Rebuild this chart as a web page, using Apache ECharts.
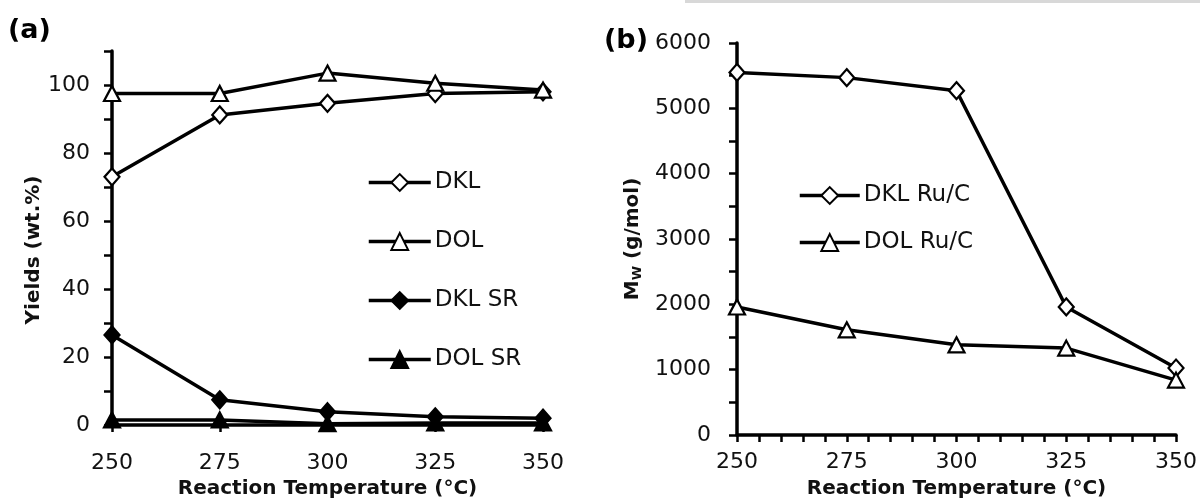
<!DOCTYPE html>
<html>
<head>
<meta charset="utf-8">
<script src="https://cdn.jsdelivr.net/npm/echarts@6/dist/echarts.min.js"></script>
<style>
html,body{margin:0;padding:0;background:#fff;}
#c{width:1200px;height:504px;}
</style>
</head>
<body>
<div id="c"></div>
<script>
const temps = [250, 275, 300, 325, 350];
const dklYield = [73, 91.2, 94.6, 97.5, 98];
const dolYield = [97.5, 97.5, 103.5, 100.5, 98.5];
const dklSR = [26.5, 7.4, 3.9, 2.4, 2];
const dolSR = [1.5, 1.5, 0.4, 0.6, 0.6];
const dklMw = [5550, 5470, 5270, 1960, 1025];
const dolMw = [1960, 1610, 1380, 1330, 840];
const yLabelsA = [0, 20, 40, 60, 80, 100];
const legendA = ['DKL', 'DOL', 'DKL SR', 'DOL SR'];
const legendB = ['DKL Ru/C', 'DOL Ru/C'];

const FONT = 'DejaVu Sans';
const pairs = (ys) => temps.map((t, i) => [t, ys[i]]);

function lineSeries(name, data, symbol, filled, xi, yi) {
  return {
    name: name, type: 'line', data: pairs(data), xAxisIndex: xi, yAxisIndex: yi,
    symbol: symbol, symbolSize: symbol === 'diamond' ? [15, 17] : [16, 15],
    showAllSymbol: true, clip: false,
    lineStyle: { color: '#000', width: 3.5 },
    itemStyle: { color: filled ? '#000' : '#fff', borderColor: '#000', borderWidth: 2.2 },
    emphasis: { disabled: true }
  };
}

const axisLineStyle = { show: true, onZero: false, lineStyle: { color: '#000', width: 3.5 } };
const labelStyle = { color: '#111', fontFamily: FONT, fontSize: 22 };
const legendText = { fontFamily: FONT, fontSize: 23, color: '#111', padding: [0, 0, 0, -1] };

const option = {
  animation: false,
  backgroundColor: '#fff',
  graphic: [
    { type: 'text', left: 8, top: 17, style: { text: '(a)', font: 'bold 27px "DejaVu Sans"', fill: '#000' } },
    { type: 'text', left: 604, top: 27, style: { text: '(b)', font: 'bold 27px "DejaVu Sans"', fill: '#000' } },
    { type: 'rect', shape: { x: 685, y: 0, width: 515, height: 3 }, style: { fill: '#d8d8d8' } }
  ],
  grid: [
    { left: 112, right: 657, top: 51, bottom: 79 },
    { left: 737, right: 23, top: 43, bottom: 69 }
  ],
  legend: [
    {
      data: legendA, orient: 'vertical', left: 367, top: 171, padding: 0,
      itemWidth: 62, itemHeight: 21, itemGap: 36,
      lineStyle: { color: '#000', width: 3.5 },
      textStyle: legendText,
      selectedMode: false
    },
    {
      data: legendB, orient: 'vertical', left: 798, top: 184, padding: 0,
      itemWidth: 60, itemHeight: 21, itemGap: 24,
      lineStyle: { color: '#000', width: 3.5 },
      textStyle: legendText,
      selectedMode: false
    }
  ],
  xAxis: [
    {
      type: 'value', gridIndex: 0, min: 250, max: 350, interval: 25,
      axisLine: axisLineStyle,
      axisTick: { show: true, length: 7, lineStyle: { color: '#000', width: 2.5 } },
      axisLabel: Object.assign({ margin: 27 }, labelStyle),
      splitLine: { show: false },
      name: 'Reaction Temperature (°C)', nameLocation: 'middle', nameGap: 54,
      nameTextStyle: { fontFamily: FONT, fontWeight: 'bold', fontSize: 20, color: '#111' }
    },
    {
      type: 'value', gridIndex: 1, min: 250, max: 350, interval: 25,
      axisLine: axisLineStyle,
      axisTick: { show: true, length: 7, lineStyle: { color: '#000', width: 2.5 } },
      minorTick: { show: true, splitNumber: 5, length: 7, lineStyle: { color: '#000', width: 2.5 } },
      axisLabel: Object.assign({ margin: 16 }, labelStyle),
      splitLine: { show: false },
      name: 'Reaction Temperature (°C)', nameLocation: 'middle', nameGap: 44,
      nameTextStyle: { fontFamily: FONT, fontWeight: 'bold', fontSize: 20, color: '#111' }
    }
  ],
  yAxis: [
    {
      type: 'value', gridIndex: 0, min: 0, max: 110, interval: 10,
      axisLine: axisLineStyle,
      axisTick: { show: true, length: 8, lineStyle: { color: '#000', width: 2.5 } },
      axisLabel: Object.assign({
        margin: 22,
        formatter: (v) => (yLabelsA.indexOf(v) >= 0 ? String(v) : '')
      }, labelStyle),
      splitLine: { show: false },
      name: 'Yields (wt.%)', nameLocation: 'middle', nameGap: 60,
      nameTextStyle: { fontFamily: FONT, fontWeight: 'bold', fontSize: 20, color: '#111', padding: [0, 24, 0, 0] }
    },
    {
      type: 'value', gridIndex: 1, min: 0, max: 6000, interval: 1000,
      axisLine: axisLineStyle,
      axisTick: { show: true, length: 8, lineStyle: { color: '#000', width: 2.5 } },
      minorTick: { show: true, splitNumber: 2, length: 8, lineStyle: { color: '#000', width: 2.5 } },
      axisLabel: Object.assign({ margin: 26, formatter: (v) => String(v) }, labelStyle),
      splitLine: { show: false },
      name: '{m|M}{s|W}{m| (g/mol)}', nameLocation: 'middle', nameGap: 93,
      nameTextStyle: {
        fontFamily: FONT, fontWeight: 'bold', fontSize: 20, color: '#111',
        rich: {
          m: { fontFamily: FONT, fontWeight: 'bold', fontSize: 20, color: '#111' },
          s: { fontFamily: FONT, fontWeight: 'bold', fontSize: 13, color: '#111', verticalAlign: 'bottom', padding: [9, 0, 0, 0] }
        }
      }
    }
  ],
  series: [
    lineSeries('DKL', dklYield, 'diamond', false, 0, 0),
    lineSeries('DOL', dolYield, 'triangle', false, 0, 0),
    lineSeries('DKL SR', dklSR, 'diamond', true, 0, 0),
    lineSeries('DOL SR', dolSR, 'triangle', true, 0, 0),
    lineSeries('DKL Ru/C', dklMw, 'diamond', false, 1, 1),
    lineSeries('DOL Ru/C', dolMw, 'triangle', false, 1, 1)
  ]
};

const chart = echarts.init(document.getElementById('c'), null, { renderer: 'canvas' });
chart.setOption(option);
</script>
</body>
</html>
